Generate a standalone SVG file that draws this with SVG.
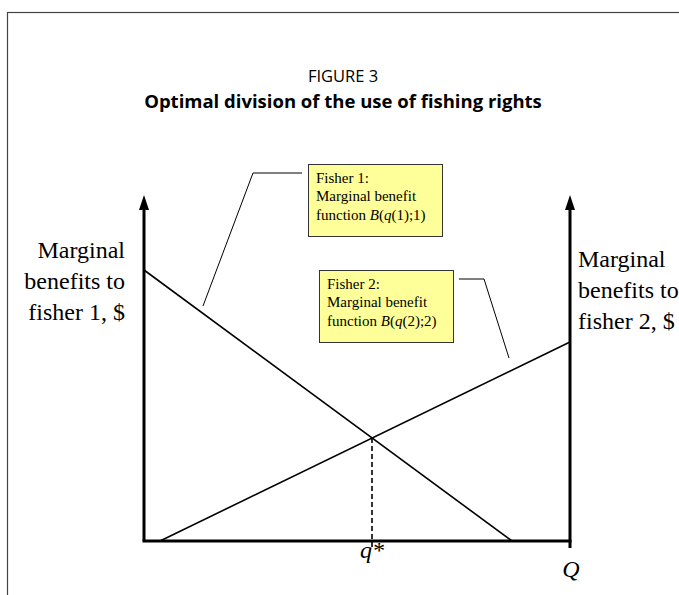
<svg xmlns="http://www.w3.org/2000/svg" width="679" height="595" viewBox="0 0 679 595">
<style>
.frame{fill:none;stroke:#444;stroke-width:1.2}
.hd{font-family:"Open Sans","Liberation Sans",sans-serif;fill:#000;text-anchor:middle}
.axis{stroke:#000;stroke-width:3;fill:none}
.curve{stroke:#000;stroke-width:1.6;fill:none}
.lead{stroke:#000;stroke-width:1;fill:none}
.box{fill:#ffff99;stroke:#333;stroke-width:1}
.bt{font-family:"Liberation Serif","Times New Roman",serif;font-size:15px;fill:#000}
.lbl{font-family:"Liberation Serif","Times New Roman",serif;font-size:24px;fill:#000}
.it{font-style:italic}
</style>
<rect class="frame" x="7.5" y="12.5" width="700" height="620"/>
<g id="title">
<text class="hd" x="343" y="82" font-size="16.5">FIGURE 3</text>
<text class="hd" x="343" y="108" font-size="18.5" font-weight="bold">Optimal division of the use of fishing rights</text>
</g>
<g id="axes">
<line class="axis" x1="144" y1="541" x2="144" y2="206"/>
<path d="M139,210 L144,195 L149,210 Z" fill="#000"/>
<line class="axis" x1="570" y1="548" x2="570" y2="206"/>
<path d="M565,210 L570,195 L575,210 Z" fill="#000"/>
<line class="axis" x1="142.5" y1="541" x2="571.5" y2="541"/>
</g>
<g id="connectors">
<line class="curve" x1="144" y1="270" x2="512" y2="541"/>
<line class="curve" x1="160" y1="541" x2="570" y2="342"/>
<line class="curve" x1="372" y1="438" x2="372" y2="548" stroke-dasharray="5,3"/>
<polyline class="lead" points="203,306 253,173 302,173"/>
<polyline class="lead" points="459,279 484,279 509,358"/>
</g>
<g id="fisher1-box">
<rect class="box" x="308.5" y="164.5" width="134" height="72"/>
<text class="bt" x="316" y="183">Fisher 1:</text>
<text class="bt" x="316" y="201">Marginal benefit</text>
<text class="bt" x="316" y="220">function <tspan class="it">B</tspan>(<tspan class="it">q</tspan>(1);1)</text>
</g>
<g id="fisher2-box">
<rect class="box" x="319.5" y="270.5" width="134" height="72"/>
<text class="bt" x="327" y="289">Fisher 2:</text>
<text class="bt" x="327" y="307">Marginal benefit</text>
<text class="bt" x="327" y="326">function <tspan class="it">B</tspan>(<tspan class="it">q</tspan>(2);2)</text>
</g>
<g id="left-label">
<text class="lbl" x="125" y="258" text-anchor="end">Marginal</text>
<text class="lbl" x="125" y="289" text-anchor="end">benefits to</text>
<text class="lbl" x="125" y="320" text-anchor="end">fisher 1, $</text>
</g>
<g id="right-label">
<text class="lbl" x="578" y="267">Marginal</text>
<text class="lbl" x="578" y="298">benefits to</text>
<text class="lbl" x="578" y="329">fisher 2, $</text>
</g>
<g id="qstar">
<text class="lbl it" x="372" y="558" font-size="18" text-anchor="middle">q*</text>
</g>
<g id="Q">
<text class="lbl it" x="571" y="577" font-size="23" text-anchor="middle">Q</text>
</g>
</svg>
